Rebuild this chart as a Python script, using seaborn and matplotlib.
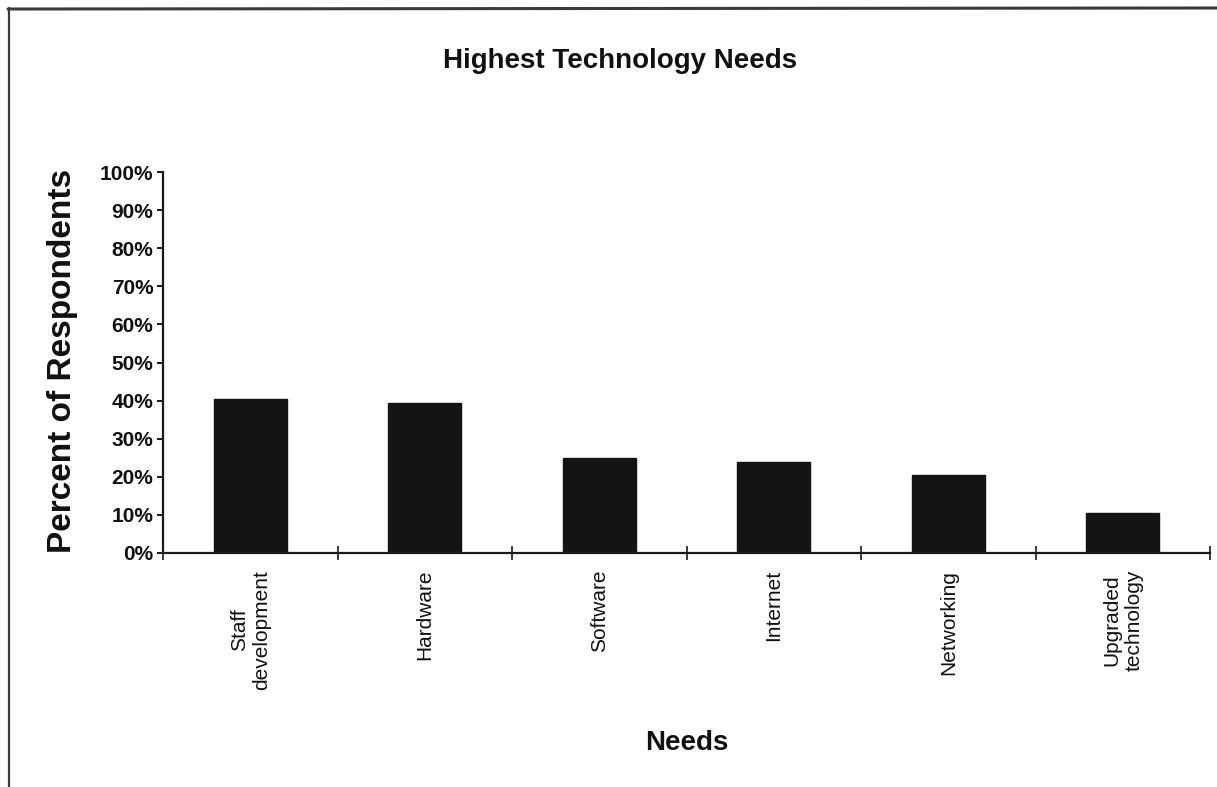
import matplotlib
matplotlib.use("Agg")
import matplotlib.pyplot as plt
from matplotlib.lines import Line2D
from matplotlib.ticker import FixedLocator, PercentFormatter
import seaborn as sns

# Survey results: share of respondents naming each need
needs = ["Staff\ndevelopment", "Hardware", "Software", "Internet",
         "Networking", "Upgraded\ntechnology"]
percent = [40.5, 39.5, 25.0, 24.0, 20.5, 10.5]
y_ticks = [0, 10, 20, 30, 40, 50, 60, 70, 80, 90, 100]

sns.set_theme(style="white")
plt.rcParams["font.family"] = ["Liberation Sans", "DejaVu Sans"]

W, H = 1217, 787
fig = plt.figure(figsize=(W / 100, H / 100), dpi=100)
fig.patch.set_facecolor("white")

left, right, top, bottom = 163, 1210, 172, 553
ax = fig.add_axes([left / W, 1 - bottom / H, (right - left) / W, (bottom - top) / H])

sns.barplot(x=needs, y=percent, color="#141414", saturation=1, width=0.42,
            edgecolor="#141414", ax=ax)

ax.set_xlim(-0.5, len(needs) - 0.5)
ax.set_ylim(0, 100)
ax.yaxis.set_major_locator(FixedLocator(y_ticks))
ax.yaxis.set_major_formatter(PercentFormatter(decimals=0))

for s in ["top", "right"]:
    ax.spines[s].set_visible(False)
for s in ["left", "bottom"]:
    ax.spines[s].set_color("#1a1a1a")
    ax.spines[s].set_linewidth(1.6)

# y ticks: short outward dashes; x ticks: boundaries between categories
ax.tick_params(axis="y", which="major", direction="out", length=4, width=1.4,
               color="#1a1a1a", left=True, labelsize=15, pad=3,
               labelcolor="#111111")
ax.tick_params(axis="x", which="major", length=0, labelsize=15, pad=12,
               labelcolor="#111111")
ax.xaxis.set_minor_locator(FixedLocator([i - 0.5 for i in range(len(needs) + 1)]))
ax.tick_params(axis="x", which="minor", direction="inout", length=10, width=1.2,
               color="#1a1a1a", bottom=True)
for lab in ax.get_yticklabels():
    lab.set_fontweight("bold")
plt.setp(ax.get_xticklabels(), rotation=90, ha="center", va="top",
         multialignment="center")

ax.set_ylabel("Percent of Respondents", fontsize=24, fontweight="bold",
              color="#111111")
ax.yaxis.set_label_coords(-0.081, 0.504)
ax.set_xlabel("Needs", fontsize=20, fontweight="bold", color="#111111")
ax.xaxis.set_label_coords(0.5, -0.465)

fig.text(620 / W, 1 - 61 / H, "Highest Technology Needs", ha="center", va="center",
         fontsize=20, fontweight="bold", color="#111111")

# page frame lines along the top and left edges
fig.add_artist(Line2D([8 / W, 1.0], [1 - 9 / H, 1 - 8 / H], color="#3a3a3a",
                      linewidth=2.2, transform=fig.transFigure))
fig.add_artist(Line2D([9 / W, 9 / W], [0.0, 1 - 8 / H], color="#3a3a3a",
                      linewidth=1.6, transform=fig.transFigure))

fig.savefig("out.png", dpi=100, facecolor="white")
